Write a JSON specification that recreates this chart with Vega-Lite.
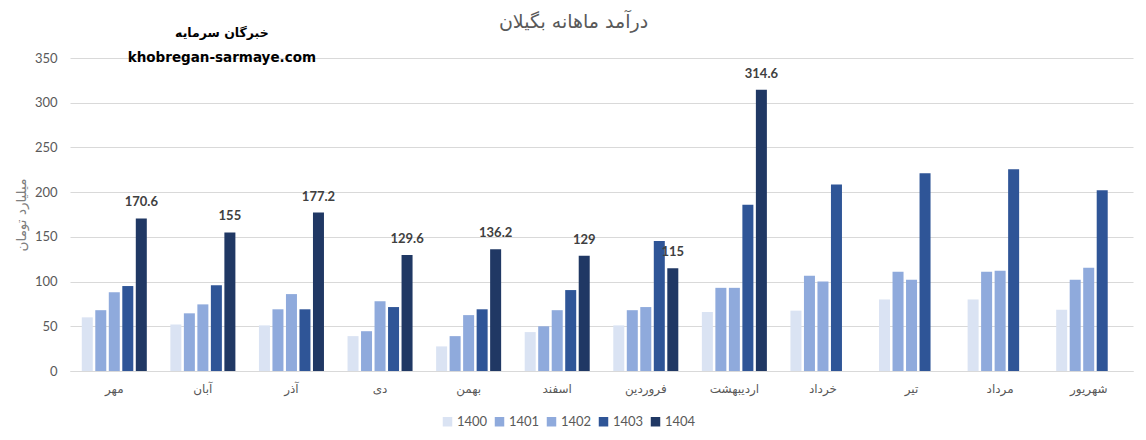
{
  "$schema": "https://vega.github.io/schema/vega-lite/v6.json",
  "autosize": {"type": "none"},
  "width": 1063,
  "height": 313,
  "padding": {"left": 70, "top": 58, "right": 13, "bottom": 69},
  "background": "white",
  "config": {
    "font": "Lato, DejaVu Sans",
    "view": {"stroke": null}
  },
  "title": {
    "text": "درآمد ماهانه بگیلان",
    "fontSize": 19,
    "fontWeight": "normal",
    "color": "#595959",
    "font": "DejaVu Sans",
    "offset": -5,
    "dx": -28
  },
  "datasets": {
    "revenue": [
      {"month": "مهر", "year": "1400", "value": 60},
      {"month": "مهر", "year": "1401", "value": 68},
      {"month": "مهر", "year": "1402", "value": 88},
      {"month": "مهر", "year": "1403", "value": 95},
      {"month": "مهر", "year": "1404", "value": 170.6},
      {"month": "آبان", "year": "1400", "value": 52},
      {"month": "آبان", "year": "1401", "value": 64.5},
      {"month": "آبان", "year": "1402", "value": 74.5},
      {"month": "آبان", "year": "1403", "value": 96},
      {"month": "آبان", "year": "1404", "value": 155},
      {"month": "آذر", "year": "1400", "value": 51},
      {"month": "آذر", "year": "1401", "value": 69},
      {"month": "آذر", "year": "1402", "value": 86},
      {"month": "آذر", "year": "1403", "value": 69},
      {"month": "آذر", "year": "1404", "value": 177.2},
      {"month": "دی", "year": "1400", "value": 39},
      {"month": "دی", "year": "1401", "value": 44.5},
      {"month": "دی", "year": "1402", "value": 78},
      {"month": "دی", "year": "1403", "value": 71.5},
      {"month": "دی", "year": "1404", "value": 129.6},
      {"month": "بهمن", "year": "1400", "value": 27.5},
      {"month": "بهمن", "year": "1401", "value": 39},
      {"month": "بهمن", "year": "1402", "value": 62.5},
      {"month": "بهمن", "year": "1403", "value": 69},
      {"month": "بهمن", "year": "1404", "value": 136.2},
      {"month": "اسفند", "year": "1400", "value": 43.5},
      {"month": "اسفند", "year": "1401", "value": 50},
      {"month": "اسفند", "year": "1402", "value": 68},
      {"month": "اسفند", "year": "1403", "value": 90.5},
      {"month": "اسفند", "year": "1404", "value": 129},
      {"month": "فروردین", "year": "1400", "value": 51},
      {"month": "فروردین", "year": "1401", "value": 68},
      {"month": "فروردین", "year": "1402", "value": 71.5},
      {"month": "فروردین", "year": "1403", "value": 145.5},
      {"month": "فروردین", "year": "1404", "value": 115},
      {"month": "اردیبهشت", "year": "1400", "value": 66},
      {"month": "اردیبهشت", "year": "1401", "value": 93},
      {"month": "اردیبهشت", "year": "1402", "value": 93},
      {"month": "اردیبهشت", "year": "1403", "value": 186},
      {"month": "اردیبهشت", "year": "1404", "value": 314.6},
      {"month": "خرداد", "year": "1400", "value": 67.5},
      {"month": "خرداد", "year": "1401", "value": 106.5},
      {"month": "خرداد", "year": "1402", "value": 100},
      {"month": "خرداد", "year": "1403", "value": 208.5},
      {"month": "تیر", "year": "1400", "value": 80},
      {"month": "تیر", "year": "1401", "value": 111},
      {"month": "تیر", "year": "1402", "value": 102},
      {"month": "تیر", "year": "1403", "value": 221},
      {"month": "مرداد", "year": "1400", "value": 80},
      {"month": "مرداد", "year": "1401", "value": 111},
      {"month": "مرداد", "year": "1402", "value": 112},
      {"month": "مرداد", "year": "1403", "value": 225.5},
      {"month": "شهریور", "year": "1400", "value": 68.5},
      {"month": "شهریور", "year": "1401", "value": 102},
      {"month": "شهریور", "year": "1402", "value": 115.5},
      {"month": "شهریور", "year": "1403", "value": 202}
    ],
    "watermark": [
      {"month": "آبان", "value": 378, "text": "خبرگان سرمایه", "size": "small"},
      {"month": "آبان", "value": 350, "text": "khobregan-sarmaye.com", "size": "large"}
    ]
  },
  "encoding": {
    "x": {
      "field": "month",
      "type": "nominal",
      "sort": ["مهر", "آبان", "آذر", "دی", "بهمن", "اسفند", "فروردین", "اردیبهشت", "خرداد", "تیر", "مرداد", "شهریور"],
      "scale": {"paddingInner": 0.24, "paddingOuter": 0.12},
      "axis": {
        "title": null,
        "labelAngle": 0,
        "labelFontSize": 12,
        "labelColor": "#595959",
        "labelFont": "DejaVu Sans",
        "labelPadding": 12,
        "ticks": false,
        "domainColor": "#d9d9d9",
        "domainWidth": 1
      }
    },
    "y": {
      "field": "value",
      "type": "quantitative",
      "scale": {"domain": [0, 350], "nice": false},
      "axis": {
        "title": "میلیارد تومان",
        "titleFont": "DejaVu Sans",
        "titleFontSize": 13.5,
        "titleFontWeight": "normal",
        "titleColor": "#7f7f7f",
        "titlePadding": 6,
        "values": [0, 50, 100, 150, 200, 250, 300, 350],
        "labelFontSize": 13,
        "labelColor": "#595959",
        "labelPadding": 13,
        "ticks": false,
        "domain": false,
        "gridColor": "#d9d9d9",
        "gridWidth": 1
      }
    }
  },
  "layer": [
    {
      "data": {"name": "revenue"},
      "mark": {"type": "bar"},
      "encoding": {
        "xOffset": {
          "field": "year",
          "type": "nominal",
          "scale": {"domain": ["1400", "1401", "1402", "1403", "1404"], "paddingInner": 0.185, "paddingOuter": 0.085}
        },
        "color": {
          "field": "year",
          "type": "nominal",
          "scale": {
            "domain": ["1400", "1401", "1402", "1403", "1404"],
            "range": ["#dae3f3", "#8faadc", "#8faadc", "#2f5597", "#203864"]
          },
          "legend": {
            "title": null,
            "orient": "none",
            "direction": "horizontal",
            "legendX": 371,
            "legendY": 357,
            "symbolType": "square",
            "symbolSize": 90,
            "symbolStrokeWidth": 0,
            "labelFontSize": 13,
            "labelColor": "#595959",
            "labelOffset": 3,
            "columnPadding": 5
          }
        }
      }
    },
    {
      "data": {"name": "revenue"},
      "transform": [{"filter": {"field": "year", "equal": "1404"}}],
      "mark": {"type": "text", "baseline": "bottom", "dy": -9, "fontSize": 13, "fontWeight": "bold", "color": "#404040"},
      "encoding": {
        "xOffset": {"field": "year", "type": "nominal"},
        "text": {"field": "value", "type": "quantitative", "format": ""}
      }
    },
    {
      "data": {"name": "watermark"},
      "mark": {"type": "text", "dx": 19, "fontWeight": "bold", "color": "#000000", "font": "DejaVu Sans", "baseline": "middle"},
      "encoding": {
        "text": {"field": "text"},
        "size": {
          "field": "size",
          "type": "nominal",
          "scale": {"domain": ["small", "large"], "range": [12.5, 13.5]},
          "legend": null
        }
      }
    }
  ]
}
